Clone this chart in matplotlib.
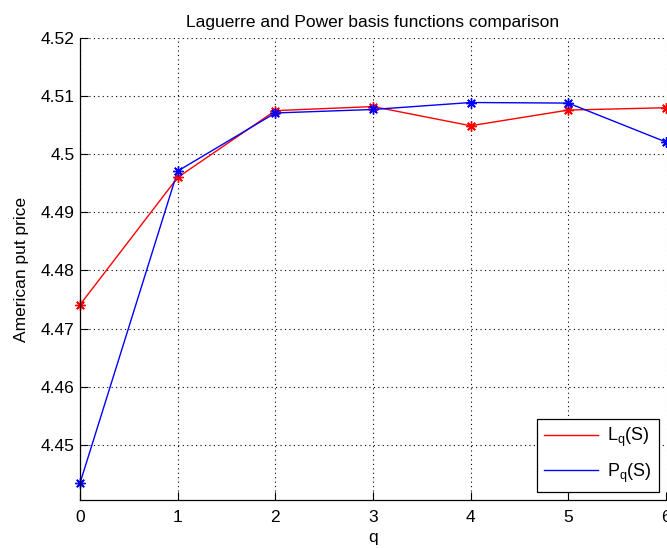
import matplotlib
matplotlib.use("Agg")
import matplotlib.pyplot as plt
from matplotlib.ticker import FixedLocator

plt.rcParams['font.family'] = ['Liberation Sans', 'DejaVu Sans']

q = [0, 1, 2, 3, 4, 5, 6]
laguerre = [4.4741, 4.4960, 4.5075, 4.5082, 4.5049, 4.5076, 4.5080]
power = [4.4434, 4.4971, 4.5071, 4.5077, 4.5089, 4.5088, 4.5021]
yticks = [4.45, 4.46, 4.47, 4.48, 4.49, 4.50, 4.51, 4.52]
ytick_labels = ['4.45', '4.46', '4.47', '4.48', '4.49', '4.5', '4.51', '4.52']

W, H = 667, 548
fig = plt.figure(figsize=(W / 100, H / 100), dpi=100)
ax = fig.add_axes([80 / W, 1 - 500 / H, (666 - 80) / W, (500 - 38) / H])

ax.plot(q, laguerre, color='#ff0000', lw=1.0, label=r'L$_\mathregular{q}$(S)')
ax.plot(q, power, color='#0000ff', lw=1.0, label=r'P$_\mathregular{q}$(S)')
ast = (8, 2, 0)
ax.plot(q, laguerre, ls='none', marker=ast, ms=7.5, mec='#ff0000', mew=1.0, clip_on=False)
ax.plot(q, power, ls='none', marker=ast, ms=7.5, mec='#0000ff', mew=1.0, clip_on=False)

ax.set_xlim(0, 6)
ax.set_ylim(4.4405, 4.52)
ax.set_xticks(q)
ax.yaxis.set_major_locator(FixedLocator(yticks))
ax.set_yticklabels(ytick_labels)
ax.tick_params(direction='in', length=6, width=0.8, labelsize=12.5, colors='black')
ax.tick_params(axis='x', pad=7)
ax.tick_params(axis='y', pad=4)
ax.grid(True, ls=(0, (1, 3)), color='black', lw=0.8)
for s in ['top', 'right']:
    ax.spines[s].set_visible(False)
for s in ['left', 'bottom']:
    ax.spines[s].set_linewidth(0.9)

ax.set_title('Laguerre and Power basis functions comparison', fontsize=12.5, pad=8)
ax.set_xlabel('q', fontsize=12.5, labelpad=4)
ax.set_ylabel('American put price', fontsize=12.5, labelpad=8)

leg = ax.legend(loc='lower right', bbox_to_anchor=(659 / W, 1 - 492 / H),
                bbox_transform=fig.transFigure, borderaxespad=0,
                fontsize=13, fancybox=False,
                edgecolor='black', framealpha=1, handlelength=3.0,
                handletextpad=0.5, borderpad=0.4, labelspacing=0.7)
leg.get_frame().set_linewidth(0.9)

fig.savefig('out.png', dpi=100)
